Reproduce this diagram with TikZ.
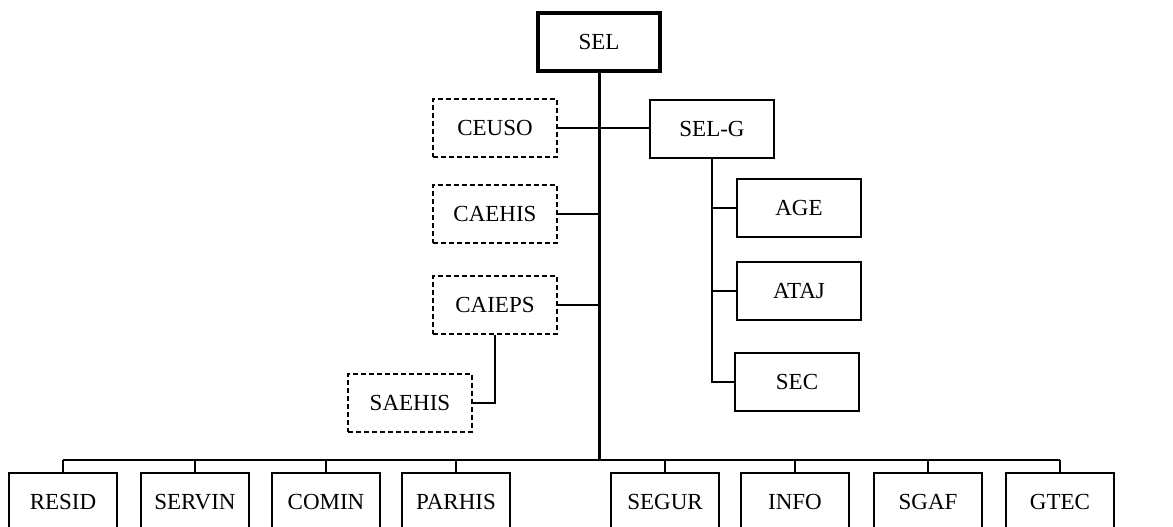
\documentclass[tikz,border=0pt]{standalone}
\usepackage{fontspec}
\setmainfont{Liberation Serif}
\begin{document}
\begin{tikzpicture}[x=1pt,y=-1pt,
  unit/.style={draw, line width=1.8pt, minimum width=124pt, minimum height=58pt, inner sep=0pt, font=\fontsize{23}{26}\selectfont},
  aux/.style={unit, dashed, dash pattern=on 5pt off 3pt, line width=1.6pt},
  bot/.style={unit, minimum width=108pt, minimum height=58pt},
  link/.style={line width=1.8pt},
  spine/.style={line width=3pt}]
\useasboundingbox (0,0) rectangle (1173,527);
\node[unit, line width=4pt, minimum width=122pt, minimum height=58pt] (SEL) at (599,42) {SEL};
\node[aux] (CEUSO) at (495,128) {CEUSO};
\node[unit] (SELG) at (712,129) {SEL-G};
\node[aux] (CAEHIS) at (495,214) {CAEHIS};
\node[aux] (CAIEPS) at (495,305) {CAIEPS};
\node[aux] (SAEHIS) at (410,403) {SAEHIS};
\node[unit] (AGE) at (799,208) {AGE};
\node[unit] (ATAJ) at (799,291) {ATAJ};
\node[unit] (SEC) at (797,382) {SEC};
\node[bot] (RESID) at (63,502) {RESID};
\node[bot] (SERVIN) at (195,502) {SERVIN};
\node[bot] (COMIN) at (326,502) {COMIN};
\node[bot] (PARHIS) at (456,502) {PARHIS};
\node[bot] (SEGUR) at (665,502) {SEGUR};
\node[bot] (INFO) at (795,502) {INFO};
\node[bot] (SGAF) at (928,502) {SGAF};
\node[bot] (GTEC) at (1060,502) {GTEC};
\coordinate (bus) at (599,460);
% spine
\draw[spine] (SEL.south) -- (bus);
% bus
\draw[line width=2pt] (RESID.north |- bus) -- (GTEC.north |- bus);
\foreach \n in {RESID,SERVIN,COMIN,PARHIS,SEGUR,INFO,SGAF,GTEC}
  \draw[link] (\n.north) -- (\n.north |- bus);
% left side
\draw[link] (CEUSO.east) -- (CEUSO.east -| SELG.west);
\draw[link] (CAEHIS.east) -- (CAEHIS.east -| SEL.south);
\draw[link] (CAIEPS.east) -- (CAIEPS.east -| SEL.south);
\draw[link] (CAIEPS.south) |- (SAEHIS.east);
% right side
\draw[link] (SELG.south) |- (SEC.west);
\draw[link] (AGE.west) -- (AGE.west -| SELG.south);
\draw[link] (ATAJ.west) -- (ATAJ.west -| SELG.south);
\end{tikzpicture}
\end{document}
